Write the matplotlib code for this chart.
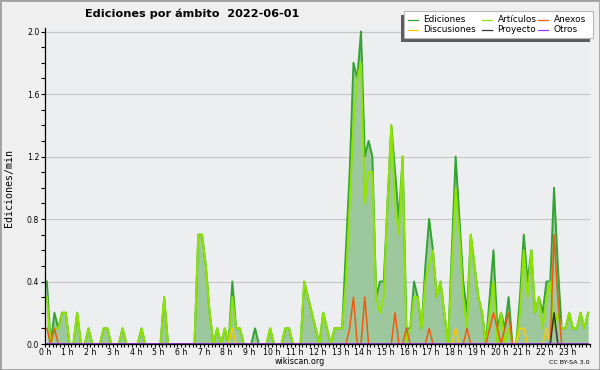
import numpy as np
import matplotlib
matplotlib.use('Agg')
import matplotlib.pyplot as plt
from matplotlib.patches import Rectangle
from matplotlib.lines import Line2D
from matplotlib.ticker import MultipleLocator, FixedLocator

title = 'Ediciones por ámbito  2022-06-01'
y_label = 'Ediciones/min'
hour_labels = [f'{h} h' for h in range(24)]
series_names = ['Ediciones', 'Artículos', 'Anexos', 'Discusiones', 'Proyecto', 'Otros']

# edits per minute, 10-minute buckets (144 per day)
ediciones = [
    0.4, 0, 0.2, 0.1, 0.2, 0.2, 0, 0, 0.2, 0, 0, 0.1,
    0, 0, 0, 0.1, 0.1, 0, 0, 0, 0.1, 0, 0, 0,
    0, 0.1, 0, 0, 0, 0, 0, 0.3, 0, 0, 0, 0,
    0, 0, 0, 0, 0.7, 0.7, 0.5, 0.2, 0, 0.1, 0, 0.1,
    0, 0.4, 0.1, 0.1, 0, 0, 0, 0.1, 0, 0, 0, 0.1,
    0, 0, 0, 0.1, 0.1, 0, 0, 0, 0.4, 0.3, 0.2, 0.1,
    0, 0.2, 0.1, 0, 0.1, 0.1, 0.1, 0.6, 1.1, 1.8, 1.7, 2.0,
    1.2, 1.3, 1.2, 0.3, 0.4, 0.4, 0.9, 1.4, 1.1, 0.8, 1.2, 0.1,
    0.1, 0.4, 0.3, 0.1, 0.5, 0.8, 0.6, 0.3, 0.4, 0.2, 0, 0.6,
    1.2, 0.8, 0.4, 0.2, 0.7, 0.5, 0.3, 0.2, 0, 0.3, 0.6, 0.1,
    0.2, 0.1, 0.3, 0, 0, 0.3, 0.7, 0.4, 0.6, 0.2, 0.3, 0.2,
    0.4, 0.4, 1.0, 0.5, 0.1, 0.1, 0.2, 0.1, 0.1, 0.2, 0.1, 0.2,
]
articulos = [
    0.3, 0, 0.1, 0.1, 0.2, 0.2, 0, 0, 0.2, 0, 0, 0.1,
    0, 0, 0, 0.1, 0.1, 0, 0, 0, 0.1, 0, 0, 0,
    0, 0.1, 0, 0, 0, 0, 0, 0.3, 0, 0, 0, 0,
    0, 0, 0, 0, 0.7, 0.7, 0.5, 0.2, 0, 0.1, 0, 0.1,
    0, 0.3, 0.1, 0.1, 0, 0, 0, 0, 0, 0, 0, 0.1,
    0, 0, 0, 0.1, 0.1, 0, 0, 0, 0.4, 0.3, 0.2, 0.1,
    0, 0.2, 0.1, 0, 0.1, 0.1, 0.1, 0.4, 0.9, 1.4, 1.7, 1.8,
    0.9, 1.1, 1.1, 0.3, 0.2, 0.3, 0.9, 1.4, 0.9, 0.7, 1.2, 0,
    0.1, 0.3, 0.3, 0.1, 0.4, 0.5, 0.6, 0.3, 0.4, 0.2, 0, 0.5,
    1.0, 0.7, 0.3, 0.1, 0.7, 0.5, 0.3, 0.2, 0, 0.2, 0.4, 0,
    0.2, 0, 0.1, 0, 0, 0.2, 0.6, 0.3, 0.6, 0.2, 0.3, 0.1,
    0.3, 0.4, 0.1, 0.2, 0.1, 0.1, 0.2, 0.1, 0.1, 0.2, 0.1, 0.2,
]
anexos = [
    0.1, 0, 0.1, 0, 0, 0, 0, 0, 0, 0, 0, 0,
    0, 0, 0, 0, 0, 0, 0, 0, 0, 0, 0, 0,
    0, 0, 0, 0, 0, 0, 0, 0, 0, 0, 0, 0,
    0, 0, 0, 0, 0, 0, 0, 0, 0, 0, 0, 0,
    0, 0, 0, 0, 0, 0, 0, 0, 0, 0, 0, 0,
    0, 0, 0, 0, 0, 0, 0, 0, 0, 0, 0, 0,
    0, 0, 0, 0, 0, 0, 0, 0, 0.1, 0.3, 0, 0,
    0.3, 0, 0, 0, 0, 0, 0, 0, 0.2, 0, 0, 0.1,
    0, 0, 0, 0, 0, 0.1, 0, 0, 0, 0, 0, 0,
    0, 0, 0, 0.1, 0, 0, 0, 0, 0, 0.1, 0.2, 0.1,
    0, 0.1, 0.2, 0, 0, 0, 0, 0, 0, 0, 0, 0,
    0, 0, 0.7, 0.3, 0, 0, 0, 0, 0, 0, 0, 0,
]
discusiones = [
    0, 0, 0, 0, 0, 0, 0, 0, 0, 0, 0, 0,
    0, 0, 0, 0, 0, 0, 0, 0, 0, 0, 0, 0,
    0, 0, 0, 0, 0, 0, 0, 0, 0, 0, 0, 0,
    0, 0, 0, 0, 0, 0, 0, 0, 0, 0, 0, 0,
    0, 0.1, 0, 0, 0, 0, 0, 0, 0, 0, 0, 0,
    0, 0, 0, 0, 0, 0, 0, 0, 0, 0, 0, 0,
    0, 0, 0, 0, 0, 0, 0, 0, 0, 0, 0, 0,
    0, 0, 0, 0, 0, 0, 0, 0, 0, 0, 0, 0,
    0, 0, 0, 0, 0, 0, 0, 0, 0, 0, 0, 0,
    0.1, 0, 0, 0, 0, 0, 0, 0, 0, 0, 0, 0,
    0, 0, 0, 0, 0, 0.1, 0.1, 0, 0, 0, 0, 0,
    0.1, 0, 0, 0, 0, 0, 0, 0, 0, 0, 0, 0,
]
proyecto = [0] * 134 + [0.2] + [0] * 9
otros = [0] * 144

W, H = 600, 370
fig = plt.figure(figsize=(W / 100, H / 100), dpi=100, facecolor='#efefef')


def fx(px):
    return px / W


def fy(py):
    return 1 - py / H


# axes: x 0..24 h -> px 45..590 ; y 0..2.0 -> px 344..31.5
y_top = 2.02
px_per_unit = (344 - 31.5) / 2.0
top_px = 344 - y_top * px_per_unit
ax = fig.add_axes([fx(45), fy(344), fx(590) - fx(45), fy(top_px) - fy(344)])
ax.set_facecolor('#eceef0')
ax.set_xlim(0, 24)
ax.set_ylim(0, y_top)

slots = np.arange(len(ediciones))
t = (slots + 0.5) / 6.0

fill_color = '#9dc89d'
colors = {
    'Ediciones': '#33a333',
    'Artículos': '#8fe400',
    'Anexos': '#ee5a10',
    'Discusiones': '#ffc800',
    'Proyecto': '#333333',
    'Otros': '#9933ff',
}
widths = {
    'Ediciones': 1.4, 'Artículos': 1.4, 'Anexos': 1.1,
    'Discusiones': 1.1, 'Proyecto': 1.1, 'Otros': 1.1,
}
data = {
    'Ediciones': ediciones,
    'Artículos': articulos,
    'Anexos': anexos,
    'Discusiones': discusiones,
    'Proyecto': proyecto,
    'Otros': otros,
}

ax.fill_between(t, 0, ediciones, color=fill_color, lw=0, zorder=1)
order = ['Ediciones', 'Artículos', 'Discusiones', 'Anexos', 'Proyecto', 'Otros']
for i, name in enumerate(order):
    ax.plot(t, data[name], color=colors[name], lw=widths[name], zorder=3 + i)

# grid & spines
ax.yaxis.set_major_locator(FixedLocator([0, 0.4, 0.8, 1.2, 1.6, 2.0]))
ax.yaxis.set_minor_locator(MultipleLocator(0.1))
ax.set_yticklabels(['0.0', '0.4', '0.8', '1.2', '1.6', '2.0'])
ax.yaxis.grid(True, which='major', color='#c8c8c8', lw=0.8, zorder=0)
ax.set_axisbelow(True)
for s in ['top', 'right']:
    ax.spines[s].set_visible(False)
for s in ['left', 'bottom']:
    ax.spines[s].set_color('black')
    ax.spines[s].set_linewidth(0.9)
    ax.spines[s].set_zorder(20)

ax.xaxis.set_major_locator(FixedLocator(list(range(24))))
ax.set_xticklabels(hour_labels)
ax.xaxis.set_minor_locator(MultipleLocator(1 / 6))
ax.tick_params(axis='x', which='both', direction='out', length=2.3, width=0.8,
               pad=0.8, labelsize=5.6, colors='black')
ax.tick_params(axis='y', which='both', direction='out', length=3, width=0.8,
               pad=1.2, labelsize=5.6, colors='black')

# title & labels
fig.text(fx(85), fy(13.5), title, fontsize=8.1, fontweight='bold',
         ha='left', va='center', family='DejaVu Sans')
fig.text(fx(9), fy(188), y_label, rotation=90, fontsize=7.2,
         ha='center', va='center', family='DejaVu Sans Mono')
fig.text(fx(300), fy(361), 'wikiscan.org', fontsize=5.8, ha='center', va='center')
fig.text(fx(590), fy(362), 'CC BY-SA 3.0', fontsize=4.6, ha='right', va='center')

# legend box with shadow
fig.add_artist(Rectangle((fx(400.5), fy(41.7)), fx(589.5) - fx(400.5), fy(14.5) - fy(41.7),
                         transform=fig.transFigure, facecolor='#5c5c5c', edgecolor='none', zorder=30))
fig.add_artist(Rectangle((fx(404), fy(38)), fx(593) - fx(404), fy(11) - fy(38),
                         transform=fig.transFigure, facecolor='white', edgecolor='#b8b8b8',
                         lw=0.8, zorder=31))
legend_layout = {
    'Ediciones': (408, 19.5), 'Artículos': (482, 19.5), 'Anexos': (538, 19.5),
    'Discusiones': (408, 29.5), 'Proyecto': (482, 29.5), 'Otros': (538, 29.5),
}
for name in series_names:
    hx, hy = legend_layout[name]
    fig.add_artist(Line2D([fx(hx), fx(hx + 10)], [fy(hy), fy(hy)], transform=fig.transFigure,
                          color=colors[name], lw=0.9, zorder=32))
    fig.text(fx(hx + 15.5), fy(hy), name, fontsize=6.4, ha='left', va='center', zorder=33)

# figure border
fig.add_artist(Rectangle((0, 0), 1, 1, transform=fig.transFigure, fill=False,
                         edgecolor='#a0a0a0', lw=2.0, zorder=40))

fig.savefig('out.png', dpi=100, facecolor=fig.get_facecolor())
